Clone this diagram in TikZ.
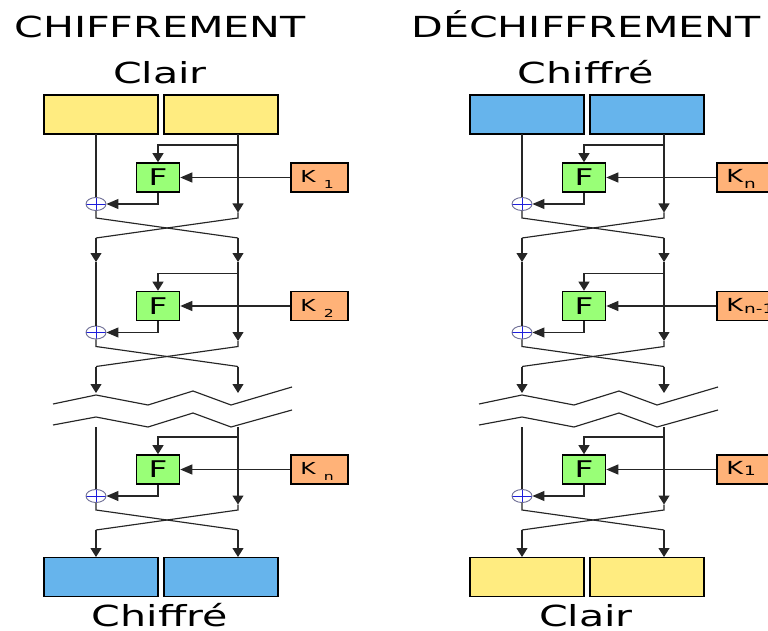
\documentclass[tikz,border=0pt]{standalone}
\usepackage{fontspec}
\setmainfont{DejaVu Sans}[FakeStretch=1.42]
\usetikzlibrary{arrows.meta,shapes.geometric}

\definecolor{clairfill}{RGB}{255,236,128}
\definecolor{chiffrefill}{RGB}{102,180,236}
\definecolor{ffill}{RGB}{153,255,119}
\definecolor{kfill}{RGB}{255,178,120}
\definecolor{xorline}{RGB}{110,110,150}
\definecolor{xorcross}{RGB}{30,30,220}

\tikzset{
  block/.style={draw=black, line width=1.8pt, minimum width=114pt, minimum height=39pt, inner sep=0pt},
  fbox/.style={draw=black, line width=1.6pt, fill=ffill, minimum width=43pt, minimum height=29pt,
    inner sep=0pt, font=\fontsize{23}{23}\selectfont},
  kbox/.style={draw=black, line width=1.6pt, fill=kfill, minimum width=57pt, minimum height=29pt, inner sep=0pt},
  klabel/.style={anchor=base west, inner sep=0pt},
  xorn/.style={ellipse, draw=xorline, line width=0.9pt, minimum width=20pt, minimum height=13pt, inner sep=0pt,
    path picture={\draw[xorcross, line width=0.9pt]
      (path picture bounding box.north) -- (path picture bounding box.south)
      (path picture bounding box.west) -- (path picture bounding box.east);}},
  wire/.style={line width=1.15pt, black!85},
  varrow/.style={wire, -{Triangle[length=9pt,width=11pt]}},
  harrow/.style={wire, -{Triangle[length=12pt,width=10pt]}},
  heading/.style={font=\fontsize{29}{29}\selectfont, anchor=base, inner sep=0pt, text depth=0pt},
}

% key labels: left column (spaced subscript) and right column (tight subscript)
\newcommand\klabL[1]{\fontsize{16.5}{16.5}\selectfont K\hspace{8pt}\raisebox{-6pt}{\fontsize{11}{11}\selectfont #1}}
\newcommand\klabR[2]{\fontsize{18}{18}\selectfont K\hspace{1pt}\raisebox{-#2pt}{\fontsize{13}{13}\selectfont #1}}

% one Feistel round: #1 name, #2 y of the F box centre, #3 key label
\newcommand\fround[3]{%
  \node[fbox] (#1F) at (158,#2) {F};
  \node[kbox] (#1K) at (319.5,#2) {};
  \node[klabel] (#1Klab) at ([xshift=10pt,yshift=-5pt]#1K.west) {#3};
  \node[xorn] (#1X) at (96,#2+26.5) {};
  \coordinate (#1fb) at (238,#2-32.5);
  \coordinate (#1tip) at (238,#2+35);
  \coordinate (#1cL) at (96,#2+40.5);
  \coordinate (#1cR) at (238,#2+40.5);
  \coordinate (#1eL) at (96,#2+60.5);
  \coordinate (#1eR) at (238,#2+60.5);
  \draw[varrow] (#1fb) -| (#1F);
  \draw[harrow] (#1K) -- (#1F);
  \draw[harrow] (#1F) |- (#1X);
  \draw[wire] (#1X) -- (#1cL) -- (#1eR);
  \draw[wire] (#1tip) -- (#1cR) -- (#1eL);
}

% one complete cipher column
% #1 input fill, #2 output fill, #3 heading, #4 input label, #5 output label, #6-#8 round keys
\newcommand\cipherhalf[8]{%
  \node[heading] (head) at (160,38) {#3};
  \node[heading] (inlab) at (160,84) {#4};
  \node[block, fill=#1] (inL) at (101,114.5) {};
  \node[block, fill=#1] (inR) at (221,114.5) {};
  \node[block, fill=#2] (outL) at (101,577) {};
  \node[block, fill=#2] (outR) at (221,577) {};
  \node[heading] (outlab) at (160,626) {#5};
  \coordinate (inLo) at (96,134);
  \coordinate (inRo) at (238,134);
  \coordinate (r2inL) at (96,262);
  \coordinate (r2inR) at (238,262);
  \coordinate (gapL) at (96,393);
  \coordinate (gapR) at (238,393);
  \coordinate (r3inL) at (96,427);
  \coordinate (r3inR) at (238,427);
  \coordinate (outLi) at (96,557);
  \coordinate (outRi) at (238,557);
  \fround{r1}{177.5}{#6}
  \fround{r2}{306}{#7}
  \fround{r3}{469.5}{#8}
  % data paths between the rounds
  \draw[wire] (inLo) -- (r1X);
  \draw[varrow] (inRo) -- (r1tip);
  \draw[varrow] (r1eL) -- (r2inL);
  \draw[varrow] (r1eR) -- (r2inR);
  \draw[wire] (r2inL) -- (r2X);
  \draw[varrow] (r2inR) -- (r2tip);
  \draw[varrow] (r2eL) -- (gapL);
  \draw[varrow] (r2eR) -- (gapR);
  \draw[wire] (r3inL) -- (r3X);
  \draw[varrow] (r3inR) -- (r3tip);
  \draw[varrow] (r3eL) -- (outLi);
  \draw[varrow] (r3eR) -- (outRi);
  % break marks for the omitted rounds
  \draw[wire] (53,404) -- (96,395) -- (148,405) -- (193,391) -- (231,405) -- (292,387);
  \draw[wire] (53,425) -- (96,417) -- (148,427) -- (193,413) -- (231,427) -- (292,410);
}

\begin{document}
\begin{tikzpicture}[x=1pt,y=-1pt]
  \useasboundingbox (0,0) rectangle (768,631);
  \fill[white] (0,0) rectangle (768,631);
  \begin{scope}[name prefix=enc-]
    \cipherhalf{clairfill}{chiffrefill}{CHIFFREMENT}{Clair}{Chiffré}%
      {\klabL{1}}{\klabL{2}}{\klabL{n}}
  \end{scope}
  \begin{scope}[xshift=426pt, name prefix=dec-]
    \cipherhalf{chiffrefill}{clairfill}{DÉCHIFFREMENT}{Chiffré}{Clair}%
      {\klabR{n}{6}}{\klabR{n-1}{2}}{\klabR{1}{1}}
  \end{scope}
\end{tikzpicture}
\end{document}
